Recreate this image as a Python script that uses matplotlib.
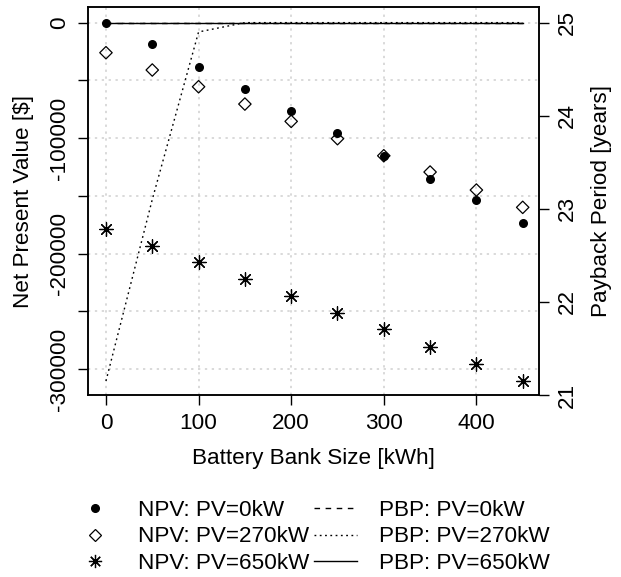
import matplotlib
matplotlib.use("Agg")
import matplotlib.pyplot as plt
from matplotlib.lines import Line2D

plt.rcParams["font.family"] = ["Liberation Sans", "DejaVu Sans"]

# %% data
battery_kwh = [0, 50, 100, 150, 200, 250, 300, 350, 400, 450]
npv_pv0   = [0, -18700, -38700, -57200, -76800, -95600, -115300, -135200, -153800, -173600]
npv_pv270 = [-26000, -41000, -55500, -70500, -85500, -100500, -115300, -129400, -145000, -160000]
npv_pv650 = [-178800, -193200, -207600, -222100, -236600, -251300, -265700, -280800, -295800, -310500]
pbp_pv0   = [25, 25, 25, 25, 25, 25, 25, 25, 25, 25]
pbp_pv270 = [21.15, 23.1, 24.9, 25, 25, 25, 25, 25, 25, 25]
pbp_pv650 = [25, 25, 25, 25, 25, 25, 25, 25, 25, 25]

x_ticks    = [0, 100, 200, 300, 400]
npv_ticks  = [0, -50000, -100000, -150000, -200000, -250000, -300000]
npv_labels = ["0", "", "-100000", "", "-200000", "", "-300000"]
pbp_ticks  = [21, 22, 23, 24, 25]

FS = 16.2
LW = 1.0

# %% figure
fig = plt.figure(figsize=(6.21, 5.77), dpi=100)
ax = fig.add_axes([88 / 621, 1 - 395 / 577, 451 / 621, 388 / 577])
ax2 = ax.twinx()

ax.scatter(battery_kwh, npv_pv0, marker="o", s=30, color="black", zorder=3)
ax.scatter(battery_kwh, npv_pv270, marker="D", s=40, facecolor="none", edgecolor="black", lw=0.9, zorder=3)
ax.scatter(battery_kwh, npv_pv650, marker=(8, 2, 0), s=95, color="black", lw=0.9, zorder=3)

ax2.plot(battery_kwh, pbp_pv0, color="black", lw=LW, ls=(0, (4, 4)))
ax2.plot(battery_kwh, pbp_pv270, color="black", lw=LW, ls=(0, (1.3, 2.5)))
ax2.plot(battery_kwh, pbp_pv650, color="black", lw=LW, ls="-")

ax.set_xlim(-19.4, 467.6)
ax.set_ylim(-322600, 13600)
ax2.set_ylim(21.01, 25.168)

ax.set_xticks(x_ticks)
ax.set_yticks(npv_ticks)
ax.set_yticklabels(npv_labels)
ax2.set_yticks(pbp_ticks)

ax.grid(True, color="#cfcfcf", ls=(0, (1.5, 3)), lw=1.1)
ax.set_axisbelow(True)

ax.tick_params(axis="both", labelsize=FS, length=7, width=1, pad=6)
ax.tick_params(axis="y", labelrotation=90)
ax2.tick_params(axis="y", labelsize=FS, length=7, width=1, pad=6, labelrotation=90)
for lab in ax.get_yticklabels():
    lab.set_va("center")
for lab in ax2.get_yticklabels():
    lab.set_va("center")

for a in (ax, ax2):
    for s in a.spines.values():
        s.set_linewidth(1.1)

ax.set_xlabel("Battery Bank Size [kWh]", fontsize=FS)
ax.xaxis.set_label_coords(0.5, -0.137)
ax.set_ylabel("Net Present Value [$]", fontsize=FS, va="center")
ax.yaxis.set_label_coords(-0.144, 0.5)
ax2.set_ylabel("Payback Period [years]", fontsize=FS, va="center", rotation=90)
ax2.yaxis.set_label_coords(1.139, 0.5)

# %% legend below the plot
handles = [
    Line2D([], [], ls="none", marker="o", ms=5.5, color="black"),
    Line2D([], [], ls="none", marker="D", ms=6.2, mfc="none", mec="black", mew=0.9),
    Line2D([], [], ls="none", marker=(8, 2, 0), ms=9.5, color="black", mew=0.9),
    Line2D([], [], color="black", lw=LW, ls=(0, (4, 4))),
    Line2D([], [], color="black", lw=LW, ls=(0, (1.3, 2.5))),
    Line2D([], [], color="black", lw=LW, ls="-"),
]
labels = ["NPV: PV=0kW", "NPV: PV=270kW", "NPV: PV=650kW",
          "PBP: PV=0kW", "PBP: PV=270kW", "PBP: PV=650kW"]
fig.legend(handles, labels, ncol=2, loc="upper left", bbox_to_anchor=(74 / 621, 1 - 500 / 577),
           frameon=False, fontsize=FS, handlelength=1.9, handletextpad=0.95,
           columnspacing=0.22, labelspacing=0.24, borderpad=0, borderaxespad=0)

fig.savefig("out.png", dpi=100)
